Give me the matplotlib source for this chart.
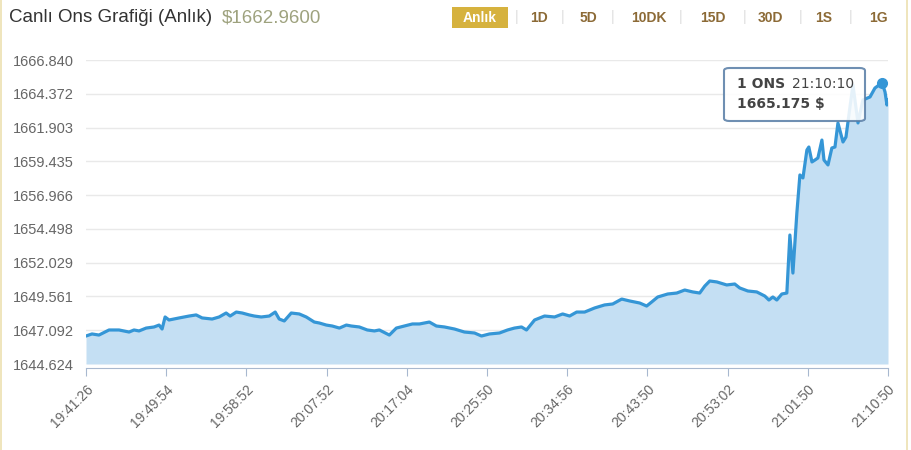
import matplotlib.pyplot as plt
import numpy as np
from matplotlib.patches import FancyBboxPatch, Rectangle

# tick labels on the time axis (evenly spaced on the chart)
tick_times = ["19:41:26", "19:49:54", "19:58:52", "20:07:52", "20:17:04", "20:25:50",
              "20:34:56", "20:43:50", "20:53:02", "21:01:50", "21:10:50"]

# y axis tick values
y_ticks = [1644.624, 1647.092, 1649.561, 1652.029, 1654.498, 1656.966,
           1659.435, 1661.903, 1664.372, 1666.840]

# seconds since 19:41:26 and the gold price (USD / ounce)
elapsed = [0, 38, 82, 146, 209, 273, 304, 336, 381, 431, 463, 482, 501, 527, 595, 662,
           709, 749, 816, 863, 910, 937, 978, 1018, 1065, 1099, 1146, 1200, 1240, 1267,
           1301, 1348, 1402, 1449, 1503, 1537, 1584, 1625, 1674, 1722, 1756, 1811, 1866,
           1915, 1949, 2018, 2066, 2121, 2175, 2221, 2286, 2332, 2385, 2451, 2516, 2582,
           2628, 2681, 2749, 2804, 2851, 2899, 2933, 2988, 3056, 3124, 3179, 3226, 3273,
           3326, 3393, 3459, 3513, 3573, 3626, 3693, 3739, 3774, 3815, 3884, 3946, 4001,
           4056, 4104, 4139, 4173, 4222, 4290, 4343, 4376, 4429, 4488, 4541, 4568, 4594,
           4620, 4653, 4686, 4706, 4726, 4752, 4772, 4792, 4818, 4831, 4852, 4872, 4892,
           4919, 4933, 4960, 4986, 5007, 5027, 5061, 5081, 5108, 5128, 5162, 5195, 5243,
           5276, 5324, 5344, 5357, 5364]
price = [1646.67, 1646.82, 1646.74, 1647.11, 1647.11, 1646.96, 1647.11, 1647.04, 1647.25,
         1647.33, 1647.47, 1647.18, 1648.06, 1647.84, 1647.99, 1648.13, 1648.21, 1647.99,
         1647.91, 1648.06, 1648.35, 1648.13, 1648.42, 1648.35, 1648.21, 1648.13, 1648.06,
         1648.13, 1648.42, 1647.91, 1647.77, 1648.35, 1648.28, 1648.06, 1647.69, 1647.62,
         1647.47, 1647.40, 1647.25, 1647.47, 1647.40, 1647.33, 1647.11, 1647.04, 1647.11,
         1646.74, 1647.25, 1647.40, 1647.55, 1647.55, 1647.69, 1647.40, 1647.33, 1647.18,
         1646.96, 1646.89, 1646.67, 1646.82, 1646.89, 1647.11, 1647.25, 1647.33, 1647.11,
         1647.84, 1648.13, 1648.06, 1648.28, 1648.13, 1648.42, 1648.42, 1648.72, 1648.94,
         1649.01, 1649.37, 1649.23, 1649.08, 1648.86, 1649.16, 1649.52, 1649.74, 1649.81,
         1650.03, 1649.89, 1649.81, 1650.32, 1650.69, 1650.62, 1650.40, 1650.47, 1650.18,
         1649.96, 1649.89, 1649.59, 1649.30, 1649.52, 1649.30, 1649.74, 1649.81, 1654.05,
         1651.27, 1655.66, 1658.44, 1658.22, 1660.26, 1660.48, 1659.39, 1659.53, 1659.68,
         1660.99, 1659.53, 1659.17, 1660.41, 1660.48, 1662.24, 1660.85, 1661.21, 1663.41,
         1665.01, 1662.24, 1663.92, 1664.14, 1664.79, 1665.175, 1664.50, 1663.55, 1663.92]

hover_time = "21:10:10"  # point shown in the tooltip
periods = ["Anlık", "1D", "5D", "10DK", "15D", "30D", "1S", "1G"]
last_price = 1662.96


def to_seconds(hms):
    h, m, s = (int(p) for p in hms.split(":"))
    return h * 3600 + m * 60 + s


start = to_seconds(tick_times[0])
tick_secs = [to_seconds(t) - start for t in tick_times]
tick_pos = np.arange(len(tick_times))
# category-like axis: every labelled tick is one step apart
x = np.interp(elapsed, tick_secs, tick_pos)
hover_index = elapsed.index(to_seconds(hover_time) - start)

plt.rcParams['font.family'] = ['Liberation Sans', 'DejaVu Sans']

fig = plt.figure(figsize=(9.12, 4.5), dpi=100)
ax = fig.add_axes([86 / 912, 1 - 364 / 450, 802 / 912, 304 / 450])
for side in ['top', 'right', 'left']:
    ax.spines[side].set_visible(False)
ax.spines['bottom'].set_color('#a8b8cf')
ax.spines['bottom'].set_position(('outward', 3))

line_color = '#3596d6'
ax.fill_between(x, price, y_ticks[0], color='#c4dff3', lw=0, zorder=2)
ax.plot(x, price, color=line_color, lw=2.3, solid_joinstyle='round', zorder=3)
ax.plot(x[hover_index], price[hover_index], 'o', ms=7, color=line_color, zorder=4)

ax.set_xlim(tick_pos[0], tick_pos[-1])
ax.set_ylim(y_ticks[0], y_ticks[-1])
ax.set_yticks(y_ticks)
ax.set_yticklabels(["%.3f" % v for v in y_ticks])
ax.set_xticks(tick_pos)
ax.set_xticklabels(tick_times, rotation=45, ha='right', rotation_mode='anchor')

ax.grid(axis='y', color='#e9e9e9', lw=1, zorder=1)
ax.tick_params(axis='y', length=0, pad=9, labelsize=10.5, labelcolor='#666666')
ax.tick_params(axis='x', length=6, color='#a8b8cf', pad=4, labelsize=10, labelcolor='#666666')

# tooltip
box = FancyBboxPatch((724 / 912, 1 - 121 / 450), 141 / 912, 53 / 450,
                     boxstyle='round,pad=0,rounding_size=0.006', transform=fig.transFigure,
                     facecolor='white', edgecolor='#5b80a8', lw=1.5, alpha=0.88, zorder=10)
fig.patches.append(box)
tip = dict(family='DejaVu Sans', fontsize=10, color='#444444', va='center', zorder=11)
fig.text(737 / 912, 1 - 84 / 450, "1 ONS", weight='bold', **tip)
fig.text(792 / 912, 1 - 84 / 450, hover_time, **tip)
fig.text(737 / 912, 1 - 104 / 450, "%.3f $" % price[hover_index], weight='bold', **tip)

# header
fig.text(9 / 912, 1 - 18 / 450, "Canlı Ons Grafiği (Anlık)", fontsize=13.5,
         color='#333333', va='center')
fig.text(222 / 912, 1 - 18 / 450, "$%.4f" % last_price, fontsize=13.5,
         color='#9ea27e', va='center')

btn_x = [480, 539, 588, 649, 713, 770, 824, 878]
sep_x = [517, 563, 613, 681, 745, 801, 851]
fig.patches.append(Rectangle((452 / 912, 1 - 28 / 450), 56 / 912, 21 / 450,
                             transform=fig.transFigure, facecolor='#d6b23e',
                             edgecolor='none'))
for i, (label, bx) in enumerate(zip(periods, btn_x)):
    fig.text(bx / 912, 1 - 17.5 / 450, label, fontsize=10, weight='bold',
             color='white' if i == 0 else '#8c6a36', ha='center', va='center')
for sx in sep_x:
    fig.text(sx / 912, 1 - 17.5 / 450, "|", fontsize=10, color='#dddddd',
             ha='center', va='center')

# page frame
fig.patches.append(Rectangle((0, 0), 2 / 912, 1, transform=fig.transFigure,
                             facecolor='#efe5bd', edgecolor='none'))
fig.patches.append(Rectangle((906 / 912, 0), 2 / 912, 1, transform=fig.transFigure,
                             facecolor='#efe5bd', edgecolor='none'))

fig.savefig('out.png', dpi=100)
